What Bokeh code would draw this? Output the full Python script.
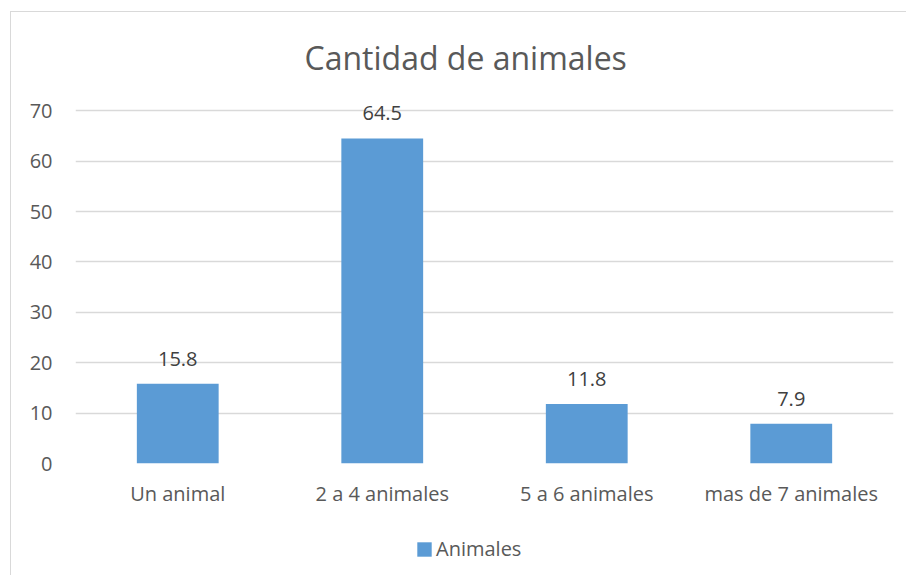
from bokeh.plotting import figure
from bokeh.layouts import column
from bokeh.models import (ColumnDataSource, FactorRange, Range1d, FixedTicker,
                          LabelSet, Legend, LegendItem, Title)
from bokeh.core.properties import value
from bokeh.embed import file_html
from bokeh.resources import INLINE

categories = ["Un animal", "2 a 4 animales", "5 a 6 animales", "mas de 7 animales"]
values = [15.8, 64.5, 11.8, 7.9]
value_labels = ["15.8", "64.5", "11.8", "7.9"]
y_ticks = [0, 10, 20, 30, 40, 50, 60, 70]
series_name = "Animales"
title_text = "Cantidad de animales"

FONT = "Open Sans"
BAR = "#5b9bd5"
TXT = "#595959"

src = ColumnDataSource(dict(cat=categories, val=values, lab=value_labels))

p = figure(x_range=FactorRange(*categories, range_padding=0),
           y_range=Range1d(0, 75),
           width=895, height=518,
           output_backend="svg", toolbar_location=None,
           min_border_left=64, min_border_right=13,
           min_border_top=73, min_border_bottom=67)

t = Title(text=title_text, align="left", offset=229, text_font=FONT,
          text_font_size="32px", text_color=TXT, text_font_style="normal", standoff=14)
p.add_layout(t, "above")

r = p.vbar(x="cat", top="val", width=0.4, source=src, fill_color=BAR, line_color=None)

labels = LabelSet(x="cat", y="val", text="lab", source=src, y_offset=18,
                  text_align="center", text_baseline="alphabetic",
                  text_font=value(FONT), text_font_size=value("20px"), text_color="#404040")
p.add_layout(labels)

p.outline_line_color = None
p.xgrid.grid_line_color = None
p.ygrid.grid_line_color = "#d9d9d9"
p.ygrid.grid_line_width = 1.5

p.yaxis.ticker = FixedTicker(ticks=y_ticks)
for ax in (p.xaxis[0], p.yaxis[0]):
    ax.axis_line_color = None
    ax.major_tick_line_color = None
    ax.minor_tick_line_color = None
    ax.major_tick_out = 0
    ax.major_tick_in = 0
    ax.major_label_text_font = FONT
    ax.major_label_text_font_size = "20px"
    ax.major_label_text_color = TXT
p.yaxis.major_label_standoff = 23
p.xaxis.major_label_standoff = 16

# legend strip below the chart: same bar series, its view window lies above the data
p2 = figure(width=895, height=45, x_range=p.x_range, y_range=Range1d(1000, 1045),
            output_backend="svg", toolbar_location=None,
            min_border_left=64, min_border_right=13, min_border_top=0, min_border_bottom=0)
p2.axis.visible = False
p2.grid.visible = False
p2.outline_line_color = None
r2 = p2.vbar(x="cat", top="val", width=0.4, source=src, fill_color=BAR, line_color=None)
legend = Legend(items=[LegendItem(label=series_name, renderers=[r2])],
                location=(340, 13), orientation="horizontal",
                glyph_width=18, glyph_height=18, label_standoff=3,
                label_text_font=FONT, label_text_font_size="20px",
                label_text_color=TXT, border_line_color=None,
                background_fill_alpha=0, padding=0, margin=0)
p2.add_layout(legend, "center")

layout = column(p, p2, spacing=0)
layout.styles = {"border-left": "1px solid #d9d9d9", "border-top": "1px solid #d9d9d9",
                 "margin-left": "10px", "margin-top": "11px"}
open("out.html", "w").write(file_html(layout, INLINE))
